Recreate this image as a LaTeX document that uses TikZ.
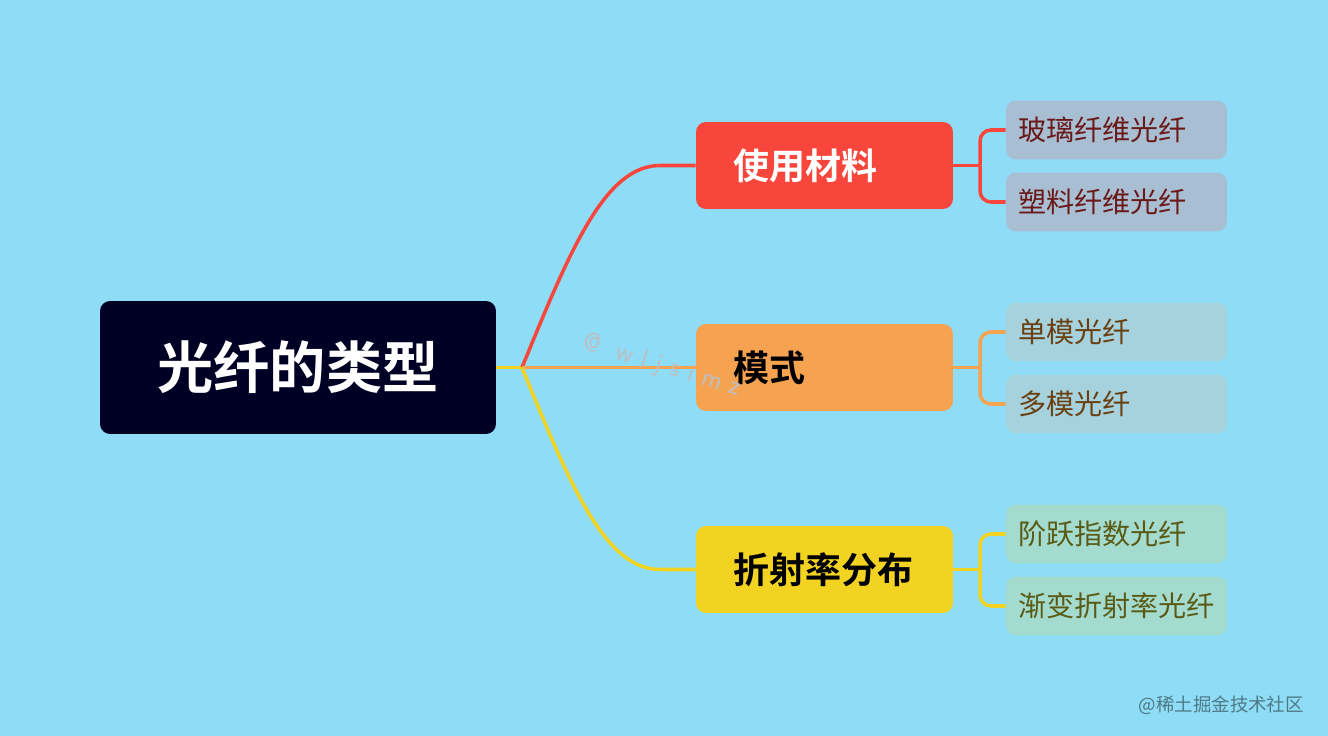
\documentclass[tikz,border=0pt]{standalone}
\usepackage{fontspec}
\newfontfamily\cjk{Noto Sans CJK SC}[BoldFont={* Bold}]
\definecolor{sky}{HTML}{8EDCF5}
\definecolor{navy}{HTML}{000024}
\definecolor{redtopic}{HTML}{F8463C}
\definecolor{orangetopic}{HTML}{F5A350}
\definecolor{yellowtopic}{HTML}{F2D321}
\definecolor{redleaf}{HTML}{A8BFD3}
\definecolor{orangeleaf}{HTML}{A5D2DC}
\definecolor{yellowleaf}{HTML}{A3DBCF}
\definecolor{redtext}{HTML}{6A1818}
\definecolor{orangetext}{HTML}{6B3F10}
\definecolor{yellowtext}{HTML}{5A5A14}
\definecolor{markgray}{HTML}{BDBFC4}

\begin{document}
\begin{tikzpicture}[x=0.02cm, y=-0.02cm,
    rootbox/.style={fill=navy, text=white, rounded corners=0.2cm,
      minimum width=7.92cm, minimum height=2.66cm, font=\cjk\bfseries\fontsize{32}{36}\selectfont},
    topic/.style={rounded corners=0.2cm, minimum height=1.74cm, inner xsep=0.74cm,
      text width=3.66cm, align=left, font=\cjk\bfseries\fontsize{20.5}{24}\selectfont},
    leaf/.style={rounded corners=0.2cm, minimum height=1.18cm, inner xsep=0.24cm,
      text width=3.94cm, align=left, font=\cjk\fontsize{16}{19}\selectfont},
    link/.style={line width=2pt},
    bracket/.style={line width=2pt, rounded corners=0.22cm}]
    \fill[sky] (0,0) rectangle (1328,736);

    \node[rootbox] (root) at (298,367.5) {光纤的类型};

    \node[topic, fill=redtopic, text=white] (material) at (824.5,165.5) {使用材料};
    \node[topic, fill=orangetopic] (mode) at (824.5,367.5) {模式};
    \node[topic, fill=yellowtopic] (index) at (824.5,569.5) {折射率分布};

    \node[leaf, fill=redleaf, text=redtext] (glass) at (1116.5,130) {玻璃纤维光纤};
    \node[leaf, fill=redleaf, text=redtext] (plastic) at (1116.5,202) {塑料纤维光纤};
    \node[leaf, fill=orangeleaf, text=orangetext] (single) at (1116.5,332) {单模光纤};
    \node[leaf, fill=orangeleaf, text=orangetext] (multi) at (1116.5,404) {多模光纤};
    \node[leaf, fill=yellowleaf, text=yellowtext] (step) at (1116.5,534) {阶跃指数光纤};
    \node[leaf, fill=yellowleaf, text=yellowtext] (graded) at (1116.5,606) {渐变折射率光纤};

    % main branches
    \coordinate (fork) at (522,367.5);
    \draw[link, yellowtopic] (root.east) -- (fork);
    \draw[link, redtopic] (fork) .. controls (570,250) and (605,165.5) .. (660,165.5) -- (material.west);
    \draw[link, orangetopic] (fork) -- (mode.west);
    \draw[link, yellowtopic] (fork) .. controls (570,485) and (605,569.5) .. (660,569.5) -- (index.west);

    % leaf brackets
    \coordinate (materialfork) at (980,165.5);
    \draw[link, redtopic] (material.east) -- (materialfork);
    \draw[bracket, redtopic] (materialfork) |- (glass.west);
    \draw[bracket, redtopic] (materialfork) |- (plastic.west);

    \coordinate (modefork) at (980,367.5);
    \draw[link, orangetopic] (mode.east) -- (modefork);
    \draw[bracket, orangetopic] (modefork) |- (single.west);
    \draw[bracket, orangetopic] (modefork) |- (multi.west);

    \coordinate (indexfork) at (980,569.5);
    \draw[link, yellowtopic] (index.east) -- (indexfork);
    \draw[bracket, yellowtopic] (indexfork) |- (step.west);
    \draw[bracket, yellowtopic] (indexfork) |- (graded.west);

    % watermarks
    \node[rotate=-17, text=markgray, font=\sffamily\fontsize{15}{17}\selectfont]
      (mark) at (662,366) {@\ \ w\ l\ j\ s\ i\ m\ z};
    \node[anchor=east, text=black!45!sky, font=\cjk\fontsize{10.5}{12}\selectfont]
      (site) at (1310,705) {@稀土掘金技术社区};
\end{tikzpicture}
\end{document}
